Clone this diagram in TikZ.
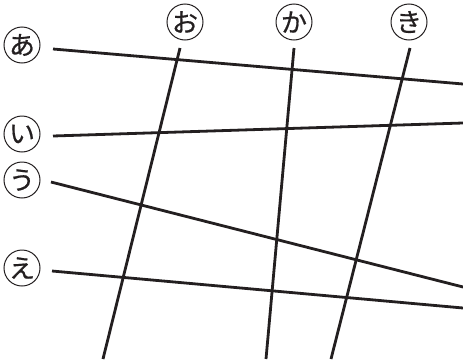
\documentclass[tikz,border=0pt]{standalone}
\usepackage{fontspec}
\newfontfamily\jpfont[FakeBold=0.6]{Noto Sans CJK JP}
\usepackage{xcolor}
\definecolor{myblack}{RGB}{35,31,32}
\tikzset{
  marklabel/.style={draw=myblack, circle, line width=1, inner sep=0pt,
    minimum size=36pt, text=myblack, font=\jpfont\fontsize{26}{26}\selectfont},
  gridline/.style={line width=2.8, color=myblack}
}

\begin{document}
\begin{tikzpicture}[x=1pt,y=-1pt]
\useasboundingbox (0,0) rectangle (463,359);

% labels on the left
\node[marklabel] (a) at (22,45) {あ};
\node[marklabel] (i) at (22,134) {い};
\node[marklabel] (u) at (22,180) {う};
\node[marklabel] (e) at (22,268) {え};
% labels on top
\node[marklabel] (o) at (185,22) {お};
\node[marklabel] (ka) at (294,22) {か};
\node[marklabel] (ki) at (409,22) {き};

% ends of the lines
\coordinate (a1) at (53,49);  \coordinate (a2) at (463,84);
\coordinate (i1) at (53,136); \coordinate (i2) at (463,123);
\coordinate (u1) at (51,182); \coordinate (u2) at (463,287);
\coordinate (e1) at (52,271); \coordinate (e2) at (463,308);
\coordinate (o1) at (180,48); \coordinate (o2) at (103,359);
\coordinate (ka1) at (294,48); \coordinate (ka2) at (266,359);
\coordinate (ki1) at (410,48); \coordinate (ki2) at (331,359);

\draw[gridline] (a1) -- (a2);
\draw[gridline] (i1) -- (i2);
\draw[gridline] (u1) -- (u2);
\draw[gridline] (e1) -- (e2);
\draw[gridline] (o1) -- (o2);
\draw[gridline] (ka1) -- (ka2);
\draw[gridline] (ki1) -- (ki2);
\end{tikzpicture}
\end{document}
